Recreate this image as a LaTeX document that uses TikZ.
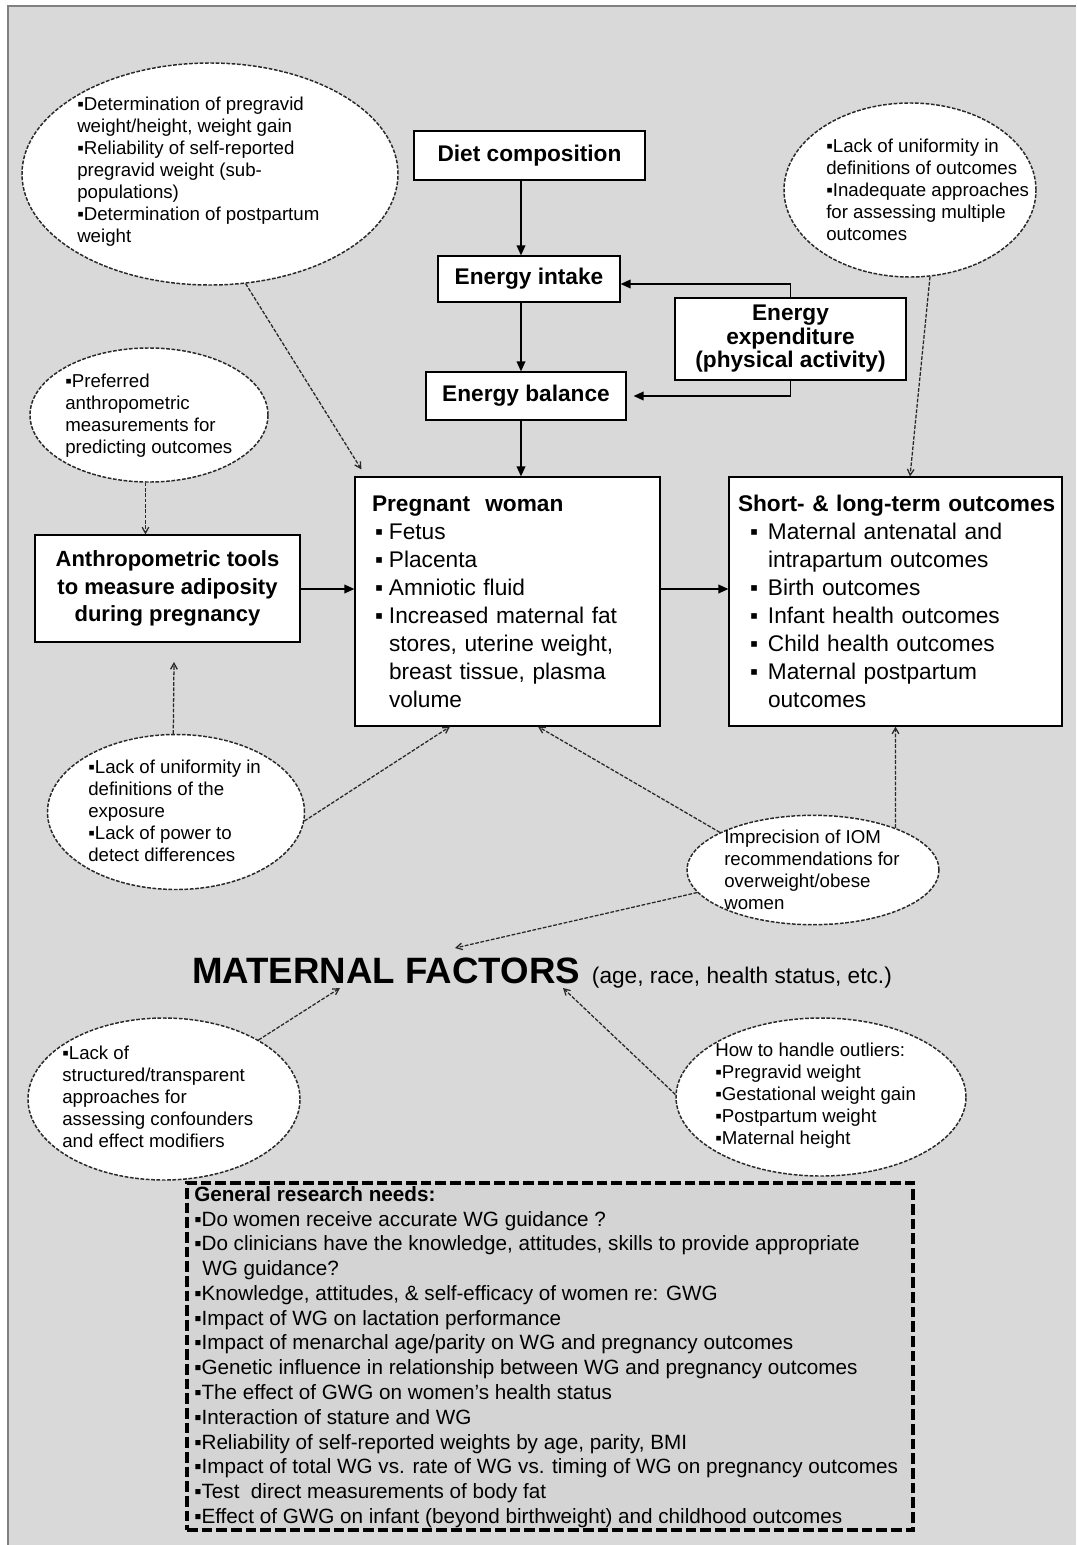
\documentclass[tikz,border=0pt]{standalone}
\usepackage{fontspec}
\setmainfont{Liberation Sans}
\usetikzlibrary{arrows.meta,calc,shapes.geometric}
\definecolor{bgc}{RGB}{217,217,217}
\definecolor{rbc}{RGB}{212,212,212}
\definecolor{dc}{RGB}{40,40,40}
\newcommand\sq{▪}
\newcommand\pwb{\hspace*{2.25pt}\makebox[10.5pt][l]{▪}}
\newcommand\pwc{\hspace*{12.75pt}}
\newcommand\sob{\hspace*{9pt}\makebox[13.5pt][l]{▪}}
\newcommand\soc{\hspace*{22.5pt}}
\begin{document}
\begin{tikzpicture}[x=0.75pt,y=-0.75pt,
 box/.style={draw=black,line width=0.9pt,fill=white,inner sep=0pt},
 bub/.style={ellipse,draw=dc,line width=1.1pt,dash pattern=on 2.8pt off 1.2pt,fill=white,inner sep=0pt},
 bt/.style={inner sep=0pt,align=left,font=\fontsize{14}{16.5}\selectfont},
 ttl/.style={font=\fontsize{17}{21}\selectfont\bfseries},
 arr/.style={-{Triangle[length=7.5pt,width=6.5pt]},line width=1.1pt},
 darr/.style={-{Straight Barb[length=4.5pt,width=5pt]},draw=dc,line width=0.95pt,dash pattern=on 2.8pt off 1.2pt},
]
\useasboundingbox (0,0) rectangle (1076,1545);
\fill[bgc] (8,6) rectangle (1076,1545);
\draw[gray,line width=1.2pt] (8,1545) -- (8,6) -- (1076,6);

% ellipses
\node[bub,minimum width=282pt,minimum height=166.5pt] (e1) at (210,174) {};
\node[bt,anchor=west] (e1t) at (77,172) {\sq Determination of pregravid\\weight/height, weight gain\\\sq Reliability of self-reported\\pregravid weight (sub-\\populations)\\\sq Determination of postpartum\\weight};

\node[bub,minimum width=189pt,minimum height=130.5pt] (e2) at (910,190) {};
\node[bt,anchor=west] (e2t) at (826,190) {\sq Lack of uniformity in\\definitions of outcomes\\\sq Inadequate approaches\\for assessing multiple\\outcomes};

\node[bub,minimum width=178.5pt,minimum height=100.5pt] (e3) at (149,415) {};
\node[bt,anchor=west] (e3t) at (65,416) {\sq Preferred\\anthropometric\\measurements for\\predicting outcomes};

\node[bub,minimum width=192.75pt,minimum height=116.25pt] (e4) at (176,812) {};
\node[bt,anchor=west] (e4t) at (88,811) {\sq Lack of uniformity in\\definitions of the\\exposure\\\sq Lack of power to\\detect differences};

\node[bub,minimum width=189pt,minimum height=82pt] (e5) at (813,870) {};
\node[bt,anchor=west] (e5t) at (724,870) {Imprecision of IOM\\recommendations for\\overweight/obese\\women};

\node[bub,minimum width=204pt,minimum height=121.5pt] (e6) at (164,1099) {};
\node[bt,anchor=west] (e6t) at (62,1097) {\sq Lack of\\structured/transparent\\approaches for\\assessing confounders\\and effect modifiers};

\node[bub,minimum width=217.5pt,minimum height=118.5pt] (e7) at (821,1097) {};
\node[bt,anchor=west] (e7t) at (715,1096) {How to handle outliers:\\\sq Pregravid weight\\\sq Gestational weight gain\\\sq Postpartum weight\\\sq Maternal height};

% boxes
\node[box,ttl,minimum width=173.25pt,minimum height=36.75pt] (diet) at (529.5,155.5) {Diet composition};
\node[box,ttl,minimum width=136.5pt,minimum height=34.5pt] (intake) at (529,279) {Energy intake};
\node[box,ttl,minimum width=150pt,minimum height=36pt] (bal) at (526,396) {Energy balance};
\node[box,minimum width=173.25pt,minimum height=61.5pt,align=center,font=\fontsize{17}{17.6}\selectfont\bfseries] (exp) at (790.5,339) {Energy\\expenditure\\(physical activity)};

\node[box,text width=203.25pt,inner xsep=12.75pt,minimum height=186.75pt,align=left,font=\fontsize{17}{21}\selectfont] (pw) at (507.5,601.5)
 {\mbox{\bfseries Pregnant\ \ woman}\\\pwb Fetus\\\pwb Placenta\\\pwb Amniotic fluid\\\pwb Increased maternal fat\\\pwc stores, uterine weight,\\\pwc breast tissue, plasma\\\pwc volume};

\node[box,text width=236.25pt,inner xsep=6.75pt,minimum height=186.75pt,align=left,font=\fontsize{17}{21}\selectfont] (so) at (895.5,601.5)
 {\mbox{\bfseries Short- \& long-term outcomes}\\\sob Maternal antenatal and\\\soc intrapartum outcomes\\\sob Birth outcomes\\\sob Infant health outcomes\\\sob Child health outcomes\\\sob Maternal postpartum\\\soc outcomes};

\node[box,minimum width=198.75pt,minimum height=80.25pt,align=center,font=\fontsize{16.5}{20.6}\selectfont\bfseries] (an) at (167.5,588.5) {Anthropometric tools\\to measure adiposity\\during pregnancy};

% maternal factors
\node[anchor=base west,inner sep=0pt] (mf) at (192,983) {\fontsize{27.5}{30}\selectfont\bfseries MATERNAL FACTORS\hspace{9pt}\fontsize{17}{20}\selectfont\mdseries(age, race, health status, etc.)};

% research needs
\node[draw=black,line width=2.8pt,dash pattern=on 8pt off 3pt,fill=rbc,minimum width=544.5pt,minimum height=260.25pt,inner sep=0pt] (rn) at (550,1356.5) {};
\node[anchor=west,inner sep=0pt,align=left,font=\fontsize{15.5}{18.58}\selectfont] (rnt) at (194,1357)
 {{\bfseries General research needs:}\\
 \sq Do women receive accurate WG guidance ?\\
 \sq Do clinicians have the knowledge, attitudes, skills to provide appropriate\\
 \hspace*{6pt}WG guidance?\\
 \sq Knowledge, attitudes, \& self-efficacy of women re: GWG\\
 \sq Impact of WG on lactation performance\\
 \sq Impact of menarchal age/parity on WG and pregnancy outcomes\\
 \sq Genetic influence in relationship between WG and pregnancy outcomes\\
 \sq The effect of GWG on women's health status\\
 \sq Interaction of stature and WG\\
 \sq Reliability of self-reported weights by age, parity, BMI\\
 \sq Impact of total WG vs. rate of WG vs. timing of WG on pregnancy outcomes\\
 \sq Test\ \ direct measurements of body fat\\
 \sq Effect of GWG on infant (beyond birthweight) and childhood outcomes};

% solid connectors
\coordinate (vx) at (521,0);
\coordinate (hy) at (0,589);
\draw[arr] (diet.south -| vx) -- (intake.north -| vx);
\draw[arr] (intake.south -| vx) -- (bal.north -| vx);
\draw[arr] (bal.south -| vx) -- (pw.north -| vx);
\draw[arr] (exp.north) |- ($(intake.east)+(0,5)$);
\draw[arr] (exp.south) |- ($(bal.east)+(7,0)$);
\draw[arr] (an.east |- hy) -- (pw.west |- hy);
\draw[arr] (pw.east |- hy) -- (so.west |- hy);

% dashed connectors
\coordinate (a4) at (174,662);
\coordinate (m1) at (455,948);
\coordinate (m2) at (340,988);
\coordinate (m3) at (563,988);
\draw[darr] (e1.-72) -- ($(pw.north west)+(7,-7)$);
\draw[darr] (e2.-77) -- ($(so.north)+(14.5,0)$);
\draw[darr] (e3.-93) -- (e3.-93 |- an.north);
\draw[darr] (e4.92) -- (a4);
\draw[darr] (e4.-4) -- ($(pw.south)+(-57.5,0)$);
\draw[darr] (e5.158) -- ($(pw.south)+(30.5,0)$);
\draw[darr] (e5.27) -- (so.south);
\draw[darr] (e5.-169) -- (m1);
\draw[darr] (e6.32) -- (m2);
\draw[darr] (e7.179) -- (m3);
\end{tikzpicture}
\end{document}
